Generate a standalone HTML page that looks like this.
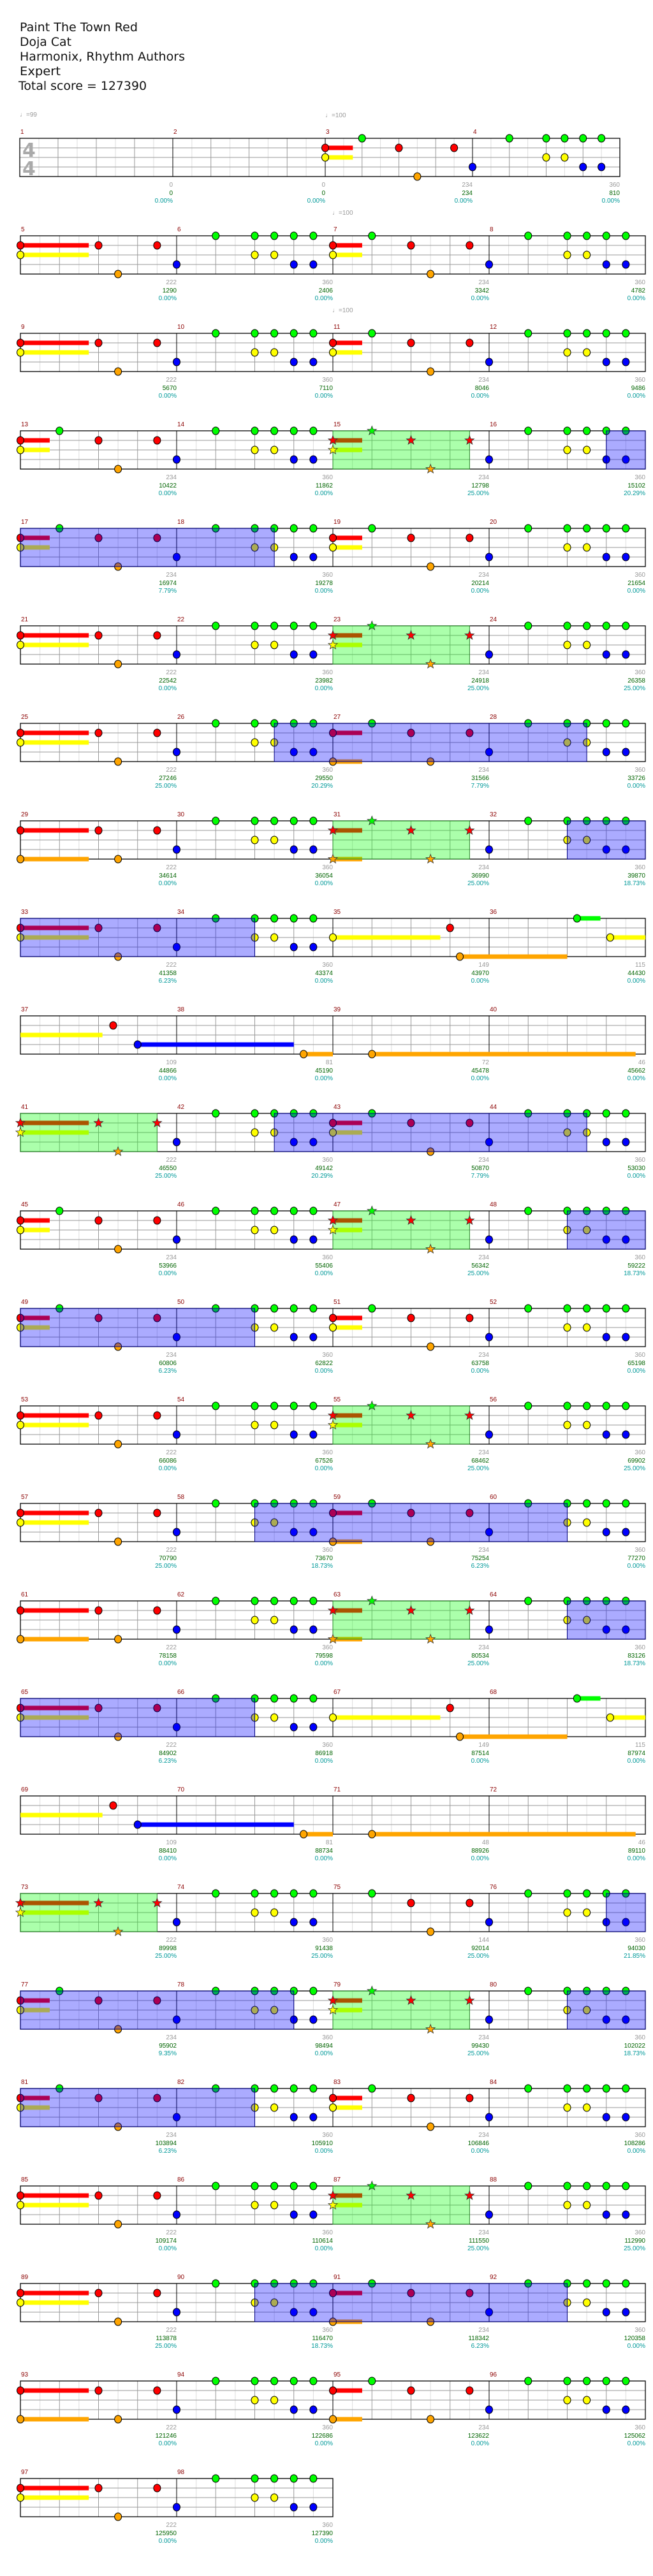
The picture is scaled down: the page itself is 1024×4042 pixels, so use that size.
<!DOCTYPE html>
<html><head><meta charset="utf-8">
<style>
html,body{margin:0;padding:0;background:#fff;}
svg{display:block;}
</style></head>
<body>
<svg id="s" xmlns="http://www.w3.org/2000/svg" width="1024" height="4042" viewBox="0 0 1024 4042">
<g font-family="'DejaVu Sans', 'Liberation Sans', sans-serif" fill="#111" font-size="19">
<text x="31" y="49" textLength="185" lengthAdjust="spacingAndGlyphs">Paint The Town Red</text>
<text x="31" y="72" textLength="81" lengthAdjust="spacingAndGlyphs">Doja Cat</text>
<text x="31" y="95" textLength="259" lengthAdjust="spacingAndGlyphs">Harmonix, Rhythm Authors</text>
<text x="31" y="118" textLength="64" lengthAdjust="spacingAndGlyphs">Expert</text>
<text x="29" y="141" textLength="201" lengthAdjust="spacingAndGlyphs">Total score = 127390</text>
</g>
</svg>
<script>
(function(){
var svg=document.getElementById('s');
var NS='http://www.w3.org/2000/svg';
function el(t,a,txt){var e=document.createElementNS(NS,t);for(var k in a)e.setAttribute(k,a[k]);if(txt!=null)e.textContent=txt;svg.appendChild(e);return e;}
var COL=['#00ff00','#ff0000','#ffff00','#0000ff','#ffa500'];
var Bm=[[0,3],[2,0],[4,0],[4,2],[5,0],[5,2],[6,0],[6,3],[7,0],[7,3]];
function first(len,lanes,g2){var n=lanes.map(function(l){return [0,l,len];});if(g2)n.push([2,0]);n.push([4,1],[5,4],[7,1]);return n;}
var T={
E:[],B:Bm,
L:first(3.5,[1,2],false),Lo:first(3.5,[1,4],false),
S:first(1.5,[1,2],true),So:first(1.5,[1,4],true),
N:[[2,0],[4,1],[5,4],[7,1]],
X35:[[0,2,5.5],[6,1],[6.5,4,12]],
X36:[[4.5,0,5.7],[6.2,2,8]],
X37:[[0,2,4.2,1],[4.75,1],[6,3,14]],
X38:[[6.5,4,8]],
X39:[[2,4,15.5]],X40:[]
};
var R=[
{m:['E','E','S','B'],g:[],b:[],l:[['0','0','0.00%'],['0','0','0.00%'],['234','234','0.00%'],['360','810','0.00%']]},
{m:['L','B','S','B'],g:[],b:[],l:[['222','1290'],['360','2406'],['234','3342'],['360','4782']]},
{m:['L','B','S','B'],g:[],b:[],l:[['222','5670'],['360','7110'],['234','8046'],['360','9486']]},
{m:['S','B','S','B'],g:[[16,23]],b:[[30,32]],l:[['234','10422'],['360','11862'],['234','12798','25.00%'],['360','15102','20.29%']]},
{m:['S','B','S','B'],g:[],b:[[0,13]],l:[['234','16974','7.79%'],['360','19278'],['234','20214'],['360','21654']]},
{m:['L','B','S','B'],g:[[16,23]],b:[],l:[['222','22542'],['360','23982'],['234','24918','25.00%'],['360','26358','25.00%']]},
{m:['L','B','So','B'],g:[],b:[[13,29]],l:[['222','27246','25.00%'],['360','29550','20.29%'],['234','31566','7.79%'],['360','33726']]},
{m:['Lo','B','So','B'],g:[[16,23]],b:[[28,32]],l:[['222','34614'],['360','36054'],['234','36990','25.00%'],['360','39870','18.73%']]},
{m:['L','B','X35','X36'],g:[],b:[[0,12]],l:[['222','41358','6.23%'],['360','43374'],['149','43970'],['115','44430']]},
{m:['X37','X38','X39','X40'],g:[],b:[],l:[['109','44866'],['81','45190'],['72','45478'],['46','45662']]},
{m:['L','B','S','B'],g:[[0,7]],b:[[13,29]],l:[['222','46550','25.00%'],['360','49142','20.29%'],['234','50870','7.79%'],['360','53030']]},
{m:['S','B','S','B'],g:[[16,23]],b:[[28,32]],l:[['234','53966'],['360','55406'],['234','56342','25.00%'],['360','59222','18.73%']]},
{m:['S','B','S','B'],g:[],b:[[0,12]],l:[['234','60806','6.23%'],['360','62822'],['234','63758'],['360','65198']]},
{m:['L','B','S','B'],g:[[16,23]],b:[],l:[['222','66086'],['360','67526'],['234','68462','25.00%'],['360','69902','25.00%']]},
{m:['L','B','So','B'],g:[],b:[[12,28]],l:[['222','70790','25.00%'],['360','73670','18.73%'],['234','75254','6.23%'],['360','77270']]},
{m:['Lo','B','So','B'],g:[[16,23]],b:[[28,32]],l:[['222','78158'],['360','79598'],['234','80534','25.00%'],['360','83126','18.73%']]},
{m:['L','B','X35','X36'],g:[],b:[[0,12]],l:[['222','84902','6.23%'],['360','86918'],['149','87514'],['115','87974']]},
{m:['X37','X38','X39','X40'],g:[],b:[],l:[['109','88410'],['81','88734'],['48','88926'],['46','89110']]},
{m:['L','B','N','B'],g:[[0,7]],b:[[30,32]],l:[['222','89998','25.00%'],['360','91438','25.00%'],['144','92014','25.00%'],['360','94030','21.85%']]},
{m:['S','B','S','B'],g:[[16,23]],b:[[0,14],[28,32]],l:[['234','95902','9.35%'],['360','98494'],['234','99430','25.00%'],['360','102022','18.73%']]},
{m:['S','B','S','B'],g:[],b:[[0,12]],l:[['234','103894','6.23%'],['360','105910'],['234','106846'],['360','108286']]},
{m:['L','B','S','B'],g:[[16,23]],b:[],l:[['222','109174'],['360','110614'],['234','111550','25.00%'],['360','112990','25.00%']]},
{m:['L','B','So','B'],g:[],b:[[12,28]],l:[['222','113878','25.00%'],['360','116470','18.73%'],['234','118342','6.23%'],['360','120358']]},
{m:['Lo','B','So','B'],g:[],b:[],l:[['222','121246'],['360','122686'],['234','123622'],['360','125062']]},
{m:['L','B'],g:[],b:[],l:[['222','125950'],['360','127390']]}
];
function star(cx,cy,r){var p=[];for(var i=0;i<10;i++){var a=-Math.PI/2+i*Math.PI/5;var rr=i%2?r*0.42:r;p.push((cx+rr*Math.cos(a)).toFixed(1)+','+(cy+rr*Math.sin(a)).toFixed(1));}return p.join(' ');}
R.forEach(function(row,ri){
  var top=217+153*ri;
  var n=row.m.length;
  var bars=[];
  if(ri===0)bars=[31,271,510,741,972];
  else for(var i=0;i<=n;i++)bars.push(32+245*i);
  function X(rp){var m=Math.min(Math.floor(rp/8),n-1);var f=(rp-m*8)/8;return bars[m]+f*(bars[m+1]-bars[m]);}
  var L=bars[0],Rr=bars[n];
  for(var m=0;m<n;m++){
    for(var e=1;e<8;e++){var x=X(m*8+e);el('line',{x1:x,y1:top,x2:x,y2:top+60,stroke:e%2?'#dddddd':'#999999','stroke-width':1});}
  }
  for(var k=1;k<4;k++)el('line',{x1:L,y1:top+15*k,x2:Rr,y2:top+15*k,stroke:'#999999','stroke-width':1});
  for(var m=1;m<n;m++)el('line',{x1:bars[m],y1:top,x2:bars[m],y2:top+60,stroke:'#000','stroke-width':1});
  el('rect',{x:L,y:top,width:Rr-L,height:60,fill:'none',stroke:'#000','stroke-width':1.3});
  if(ri===0){
    el('text',{x:35,y:246,'font-family':"'DejaVu Sans',sans-serif",'font-weight':'bold','font-size':30,fill:'#aaaaaa'},'4');
    el('text',{x:35,y:275,'font-family':"'DejaVu Sans',sans-serif",'font-weight':'bold','font-size':30,fill:'#aaaaaa'},'4');
    el('text',{x:31,y:183,'font-family':"'Liberation Sans',sans-serif",'font-size':10,fill:'#999'},'\u2669=99');
  }
  if(ri<3){el('text',{x:ri===0?510:521,y:top-33,'font-family':"'Liberation Sans',sans-serif",'font-size':10,fill:'#999'},'\u2669=100');}
  var notes=[],sus=[];
  row.m.forEach(function(t,mi){
    T[t].forEach(function(nt){
      var rp=mi*8+nt[0];
      if(nt[2]!=null)sus.push([rp,nt[1],mi*8+nt[2]]);
      if(!nt[3])notes.push([rp,nt[1]]);
    });
  });
  function inG(rp){return row.g.some(function(g){return rp>=g[0]-0.01&&rp<=g[1]+0.01;});}
  sus.forEach(function(s){var y=top+15*s[1];var x1=X(s[0]),x2=X(s[2]);el('rect',{x:x1,y:y-3.5,width:x2-x1,height:7,fill:COL[s[1]]});});
  row.g.forEach(function(g){var x1=X(g[0]),x2=X(g[1]);el('rect',{x:x1,y:top,width:x2-x1,height:60,fill:'rgba(0,255,0,0.33)',stroke:'#2a8a2a','stroke-width':1});});
  notes.forEach(function(nt){
    var x=X(nt[0]),y=top+15*nt[1];
    if(inG(nt[0]))el('polygon',{points:star(x,y,7.5),fill:COL[nt[1]],stroke:'#333','stroke-width':0.8});
    else el('ellipse',{cx:x,cy:y,rx:5.5,ry:6,fill:COL[nt[1]],stroke:'#000','stroke-width':1});
  });
  row.b.forEach(function(b){var x1=X(b[0]),x2=X(b[1]);el('rect',{x:x1,y:top,width:x2-x1,height:60,fill:'rgba(0,0,255,0.33)',stroke:'#000080','stroke-width':1});});
  for(var m=0;m<n;m++){
    var num=ri===0?m+1:ri*4+m+1;
    el('text',{x:bars[m]+1,y:top-7,'font-family':"'Liberation Sans',sans-serif",'font-size':10,fill:'#8b0000'},String(num));
    var lb=row.l[m];var xe=bars[m+1];
    el('text',{x:xe,y:top+76,'text-anchor':'end','font-family':"'Liberation Sans',sans-serif",'font-size':10,fill:'#999999'},lb[0]);
    el('text',{x:xe,y:top+89,'text-anchor':'end','font-family':"'Liberation Sans',sans-serif",'font-size':10,fill:'#006400'},lb[1]);
    el('text',{x:xe,y:top+101,'text-anchor':'end','font-family':"'Liberation Sans',sans-serif",'font-size':10,fill:'#009999'},lb[2]||'0.00%');
  }
});
})();
</script>
</body></html>
